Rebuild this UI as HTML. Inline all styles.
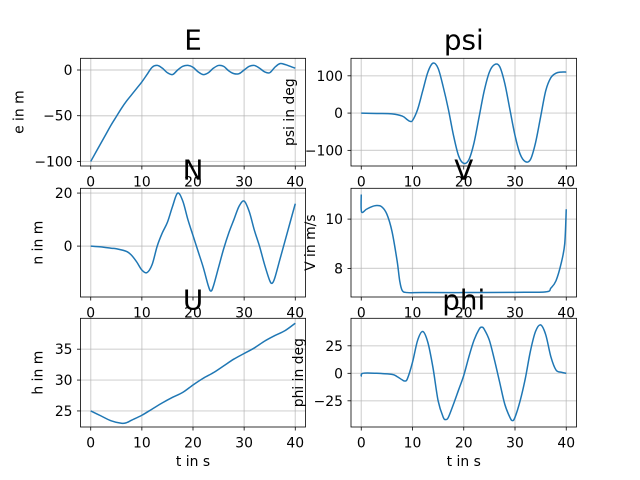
<!DOCTYPE html>
<html><head><meta charset="utf-8"><style>
body{margin:0;background:#fff}
svg{display:block;font-family:"DejaVu Sans","Liberation Sans",sans-serif}
</style></head><body>
<svg id="fig" width="640" height="480" viewBox="0 0 640 480"></svg>
<script>
const xTicks=[0,10,20,30,40];
const eT=[0,1,2,3,4,5,6,7,8,9,10,11,12,13,14,15,16,17,18,19,20,21,22,23,24,25,26,27,28,29,30,31,32,33,34,35,36,37,38,39,40];
const eV=[-100,-90,-80,-70,-60,-51,-42,-34,-27,-20,-13,-5,3,5,2,-3,-5,0,4,5,3,-2,-5,-3,2,5,4,-1,-4,-4,0,4,5,2,-2,-3,3,7,6,4,2];
const nT=[0,2,4,5,7,8,9,10,11,12,13,14,15,16,17,18,19,20,21,22,23,23.5,24,25,26,27,28,29,30,31,32,33,34,35,35.5,36,37,38,39,40];
const nV=[0,-0.3,-0.8,-1,-2,-3.5,-6,-9,-10,-7,0,5,9,15,20,17,10,4,-2,-8,-15,-17,-15,-8,-1,5,10,15,17,13,6,0,-7,-13,-14,-12,-5,2,9,16];
const uT=[0,2,4,6,7,8,10,12,14,16,18,20,22,24,26,28,30,32,34,36,38,40];
const uV=[25,24.2,23.4,23,23.1,23.5,24.3,25.3,26.3,27.2,28,29.2,30.3,31.2,32.3,33.4,34.3,35.2,36.3,37.2,38,39.2];
const pT=[0,3,6,8,9,9.5,10,11,12,13,14,15,16,17,18,19,20,21,22,23,24,25,26,27,28,29,30,31,32,33,34,35,36,37,38,39,40];
const pV=[0,-1,-2,-8,-18,-22,-20,10,60,110,134,120,70,10,-60,-115,-135,-125,-80,-10,60,110,130,125,80,10,-60,-110,-130,-125,-80,-10,60,95,107,110,110];
const vT=[0,0.05,1,2,3,4,5,6,7,7.5,8,9,12,20,30,36,37,38,39,39.7,40];
const vV=[11,10.3,10.4,10.5,10.55,10.5,10.2,9.5,8.3,7.5,7.1,7.02,7.02,7.02,7.03,7.05,7.2,7.5,8.2,9,10.4];
const fT=[0,0.3,3,6,7,8,8.5,9,10,11,12,13,14,15,16,16.5,17,18,19,20,21,22,23,23.5,24,25,26,27,28,29,29.5,30,31,32,33,34,35,36,37,38,39,40];
const fV=[-3,0,0,-1,-3,-6,-7,-5,10,30,38,28,5,-25,-40,-42,-40,-28,-15,-2,15,30,40,42,40,30,12,-8,-28,-40,-43,-40,-25,-5,20,38,44,35,15,3,1,0];

const NS="http://www.w3.org/2000/svg";
const svg=document.getElementById('fig');
function el(tag,attrs,parent){const e=document.createElementNS(NS,tag);for(const k in attrs)e.setAttribute(k,attrs[k]);(parent||svg).appendChild(e);return e;}

const panels=[
 {name:'e',title:'E',ylab:'e in m',x0:80.5,x1:305.5,y0:58.3,y1:166,ymin:-105,ymax:12.8,yt:[0,-50,-100],T:eT,V:eV,labx:19.5,xlab:false},
 {name:'n',title:'N',ylab:'n in m',x0:80.5,x1:305.5,y0:188.3,y1:297,ymin:-19.2,ymax:21.8,yt:[0,20],T:nT,V:nV,labx:38.5,xlab:false},
 {name:'u',title:'U',ylab:'h in m',x0:80.5,x1:305.5,y0:318.3,y1:427,ymin:22.4,ymax:40,yt:[25,30,35],T:uT,V:uV,labx:38.5,xlab:true},
 {name:'psi',title:'psi',ylab:'psi in deg',x0:351,x1:576.5,y0:58.3,y1:166,ymin:-142,ymax:147,yt:[100,0,-100],T:pT,V:pV,labx:290,xlab:false},
 {name:'v',title:'V',ylab:'V in m/s',x0:351,x1:576.5,y0:188.3,y1:297,ymin:6.84,ymax:11.25,yt:[10,8],T:vT,V:vV,labx:311,xlab:false},
 {name:'phi',title:'phi',ylab:'phi in deg',x0:351,x1:576.5,y0:318.3,y1:427,ymin:-48.8,ymax:50,yt:[25,0,-25],T:fT,V:fV,labx:299,xlab:true}
];

function fmt(v){return v<0?'\u2212'+(-v):String(v);}

panels.forEach(p=>{
 const g=el('g',{});
 
 
 const sx=t=>p.x0+(t+2)/44*(p.x1-p.x0);
 const sy=v=>p.y1-(v-p.ymin)/(p.ymax-p.ymin)*(p.y1-p.y0);
 xTicks.forEach(t=>{
  const gl=el('line',{x1:sx(t),x2:sx(t),y1:p.y0,y2:p.y1,stroke:'#b0b0b0','stroke-opacity':0.55,'stroke-width':1.2},g);
  
  
  el('line',{x1:sx(t),x2:sx(t),y1:p.y1,y2:p.y1+3.5,stroke:'#000','stroke-width':0.8},g);
  const tx=el('text',{x:sx(t),y:p.y1+20.5,'font-size':13.9,'text-anchor':'middle',fill:'#000'},g);
  tx.textContent=t;
  
  
 });
 p.yt.forEach(v=>{
  const gl=el('line',{x1:p.x0,x2:p.x1,y1:sy(v),y2:sy(v),stroke:'#b0b0b0','stroke-opacity':0.55,'stroke-width':1.2},g);
  
  
  el('line',{x1:p.x0-3.5,x2:p.x0,y1:sy(v),y2:sy(v),stroke:'#000','stroke-width':0.8},g);
  const tx=el('text',{x:p.x0-8,y:sy(v)+5,'font-size':13.9,'text-anchor':'end',fill:'#000'},g);
  tx.textContent=fmt(v);
  
  
 });
 const pts=p.T.map((t,i)=>[sx(t),sy(p.V[i])]);
 let d='M'+pts[0][0].toFixed(2)+','+pts[0][1].toFixed(2);
 for(let i=0;i<pts.length-1;i++){
  const p0=pts[Math.max(0,i-1)],p1=pts[i],p2=pts[i+1],p3=pts[Math.min(pts.length-1,i+2)];
  const c1=[p1[0]+(p2[0]-p0[0])/6,p1[1]+(p2[1]-p0[1])/6];
  const c2=[p2[0]-(p3[0]-p1[0])/6,p2[1]-(p3[1]-p1[1])/6];
  d+=' C'+c1.map(n=>n.toFixed(2)).join(',')+' '+c2.map(n=>n.toFixed(2)).join(',')+' '+p2.map(n=>n.toFixed(2)).join(',');
 }
 const line=el('path',{d:d,fill:'none',stroke:'#1f77b4','stroke-width':1.5},g);
 
 
 const fr=el('rect',{x:p.x0,y:p.y0,width:p.x1-p.x0,height:p.y1-p.y0,fill:'none',stroke:'#000','stroke-width':0.8},g);
 
 
 const ti=el('text',{x:(p.x0+p.x1)/2,y:p.y0-9,'font-size':27.8,'text-anchor':'middle',fill:'#000'},g);
 ti.textContent=p.title;
 
 
 const yl=el('text',{x:0,y:0,'font-size':13.9,'text-anchor':'middle','dominant-baseline':'central',fill:'#000',transform:'translate('+p.labx+','+((p.y0+p.y1)/2)+') rotate(-90)'},g);
 yl.textContent=p.ylab;
 
 
 if(p.xlab){
  const xl=el('text',{x:(p.x0+p.x1)/2,y:p.y1+39,'font-size':13.9,'text-anchor':'middle',fill:'#000'},g);
  xl.textContent='t in s';
  
  
 }
});
</script>
</body></html>
